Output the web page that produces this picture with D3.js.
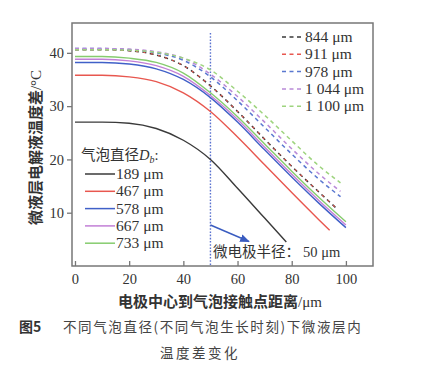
<!DOCTYPE html>
<html><head><meta charset="utf-8">
<script src="https://cdn.jsdelivr.net/npm/d3@7"></script>
<style>
html,body{margin:0;padding:0;background:#fff;}
svg{display:block;}
</style></head>
<body>
<svg id="c" width="427" height="365"></svg>
<script>
// ---- data ----
const xTicks = [0, 20, 40, 60, 80, 100];
const yTicks = [10, 20, 30, 40];
const solidNames = ["189 μm", "467 μm", "578 μm", "667 μm", "733 μm"];
const dashNames = ["844 μm", "911 μm", "978 μm", "1 044 μm", "1 100 μm"];
const solidColors = ["#3a3a3a", "#e8574f", "#4060c8", "#c27fd6", "#86cc6e"];
const dashColors = ["#3a3a3a", "#e8574f", "#5a78d0", "#b98ad8", "#9ed47e"];
const xs = [0, 10, 20, 30, 40, 50, 60, 70, 80, 90, 100];
const x189 = [0, 10, 20, 30, 40, 50, 60, 70, 78];
const y189 = [27, 27, 26.8, 25.8, 23.6, 20, 14.6, 9, 4.5];
const x467 = [0, 10, 20, 30, 40, 50, 60, 70, 80, 90, 94];
const y467 = [35.8, 35.8, 35.5, 34.6, 32.5, 29, 24.2, 19, 13.8, 8.7, 6.7];
const y578 = [38.2, 38.2, 37.9, 37, 35, 31.6, 27, 21.8, 16.7, 11.8, 7.2];
const y667 = [38.8, 38.8, 38.5, 37.6, 35.6, 32, 27.5, 22.3, 17.2, 12.3, 7.7];
const y733 = [39.3, 39.3, 39, 38.2, 36.2, 32.5, 28, 22.9, 17.8, 12.9, 8.3];
const xDash = [0, 10, 20, 30, 40, 50, 60, 70, 80, 90, 97];
const y844 = [40.6, 40.6, 40.4, 39.6, 37.6, 33.8, 29, 23.8, 18.7, 13.9, 10.6];
const y911 = [40.6, 40.6, 40.4, 39.6, 37.6, 33.8, 29, 23.8, 18.7, 13.9, 10.6];
const xDash2 = [0, 10, 20, 30, 40, 50, 60, 70, 80, 90, 98];
const y978 = [40.8, 40.8, 40.6, 40, 38.6, 35.5, 31, 26, 21, 16.3, 13];
const y1044 = [40.8, 40.8, 40.7, 40.2, 39, 36, 31.8, 27, 22, 17.3, 14];
const y1100 = [40.6, 40.6, 40.5, 40.1, 39, 36.8, 32.8, 28.3, 23.5, 18.8, 15.6];
const electrodeRadius = 50;

const solidSeries = [[x189, y189], [x467, y467], [xs, y578], [xs, y667], [xs, y733]];
const dashSeries = [[xDash, y844], [xDash, y911], [xDash2, y978], [xDash2, y1044], [xDash2, y1100]];

// ---- layout ----
const svg = d3.select("#c");
const L = 72, R = 373, T = 23, B = 266;
const x = d3.scaleLinear().domain([-1.1, 110]).range([L, R]);
const y = d3.scaleLinear().domain([0, 45.6]).range([B, T]);
const serif = "'Liberation Serif','Times New Roman','DejaVu Serif',serif";
const cjk = "'Noto Sans CJK SC','Noto Sans',sans-serif";
const txt = "#333";

// axes
const gx = svg.append("g").attr("transform", `translate(0,${B})`)
  .call(d3.axisBottom(x).tickValues(xTicks).tickSizeInner(-5).tickSizeOuter(0).tickPadding(8));
const gy = svg.append("g").attr("transform", `translate(${L},0)`)
  .call(d3.axisLeft(y).tickValues(yTicks).tickSizeInner(5).tickSizeOuter(0).tickPadding(3));
[gx, gy].forEach(g => {
  g.attr("font-family", null);
  g.select(".domain").remove();
  g.selectAll("line").attr("stroke", "#777").attr("stroke-width", 1.3);
  g.selectAll("text").attr("fill", txt).attr("font-family", serif).attr("font-size", 14.5);
});

// frame
svg.append("rect").attr("x", L).attr("y", T).attr("width", R - L).attr("height", B - T)
  .attr("fill", "none").attr("stroke", "#777").attr("stroke-width", 1.5);

// electrode radius line
svg.append("line").attr("x1", x(electrodeRadius)).attr("x2", x(electrodeRadius))
  .attr("y1", 33).attr("y2", B)
  .attr("stroke", "#5a72d0").attr("stroke-width", 1.4).attr("stroke-dasharray", "1.6,1.6");

const line = d3.line().curve(d3.curveMonotoneX).x(d => x(d[0])).y(d => y(d[1]));
const pts = s => s[0].map((v, i) => [v, s[1][i]]);

solidSeries.forEach((s, i) => {
  svg.append("path").attr("d", line(pts(s))).attr("fill", "none")
    .attr("stroke", solidColors[i]).attr("stroke-width", 1.4);
});
dashSeries.forEach((s, i) => {
  svg.append("path").attr("d", line(pts(s))).attr("fill", "none")
    .attr("stroke", dashColors[i]).attr("stroke-width", i === 1 ? 1.2 : 1.5)
    .attr("stroke-dasharray", i === 1 ? "2,5.5" : "4,3.5")
    .attr("stroke-dashoffset", i === 1 ? -1 : 0);
});

// arrow
const defs = svg.append("defs");
defs.append("marker").attr("id", "ah").attr("viewBox", "0 0 10 10").attr("refX", 9).attr("refY", 5)
  .attr("markerWidth", 7).attr("markerHeight", 7).attr("orient", "auto")
  .append("path").attr("d", "M0,1 L10,5 L0,9 Z").attr("fill", "#3a5cc0");
svg.append("line").attr("x1", x(electrodeRadius)).attr("y1", 225).attr("x2", 249).attr("y2", 241.5)
  .attr("stroke", "#3a5cc0").attr("stroke-width", 1.4).attr("marker-end", "url(#ah)");

svg.append("text").attr("x", 213).attr("y", 257).attr("fill", txt)
  .attr("font-size", 14.5)
  .call(t => {
    t.append("tspan").attr("font-family", cjk).text("微电极半径：");
    t.append("tspan").attr("font-family", serif).attr("dx", 3).text("50 μm");
  });

// legend 1
const lg1 = svg.append("g");
const lt = lg1.append("text").attr("x", 81).attr("y", 160).attr("fill", txt).attr("font-size", 14.5);
lt.append("tspan").attr("font-family", cjk).text("气泡直径");
lt.append("tspan").attr("font-family", serif).attr("font-style", "italic").text("D");
lt.append("tspan").attr("font-family", serif).attr("font-style", "italic").attr("font-size", 10).attr("dy", 3).text("b");
lt.append("tspan").attr("font-family", serif).attr("dy", -3).text(":");
solidNames.forEach((n, i) => {
  const yy = 174 + i * 17.3;
  lg1.append("line").attr("x1", 85).attr("x2", 115).attr("y1", yy).attr("y2", yy)
    .attr("stroke", solidColors[i]).attr("stroke-width", 1.5);
  lg1.append("text").attr("x", 116).attr("y", yy + 5).attr("fill", txt)
    .attr("font-family", serif).attr("font-size", 15.5).text(n);
});

// legend 2
dashNames.forEach((n, i) => {
  const yy = 37 + i * 17.3;
  svg.append("line").attr("x1", 282).attr("x2", 304).attr("y1", yy).attr("y2", yy)
    .attr("stroke", dashColors[i]).attr("stroke-width", 1.5).attr("stroke-dasharray", "4,3.5");
  svg.append("text").attr("x", 305).attr("y", yy + 5).attr("fill", txt)
    .attr("font-family", serif).attr("font-size", 15.5).text(n);
});

// axis titles
svg.append("text").attr("transform", `translate(41,${(T + B) / 2 + 3}) rotate(-90)`)
  .attr("text-anchor", "middle").attr("fill", txt).attr("font-size", 15).attr("font-weight", "bold")
  .call(t => {
    t.append("tspan").attr("font-family", cjk).text("微液层电解液温度差");
    t.append("tspan").attr("font-family", serif).attr("font-weight", "normal").text("/°C");
  });
svg.append("text").attr("x", 220).attr("y", 307).attr("text-anchor", "middle").attr("fill", txt)
  .attr("font-size", 15).attr("font-weight", "bold")
  .call(t => {
    t.append("tspan").attr("font-family", cjk).text("电极中心到气泡接触点距离");
    t.append("tspan").attr("font-family", serif).attr("font-weight", "normal").text("/μm");
  });

// caption
svg.append("text").attr("x", 19).attr("y", 332).attr("fill", "#333")
  .attr("font-size", 14).attr("font-family", cjk).attr("font-weight", "bold").text("图5");
svg.append("text").attr("x", 63).attr("y", 332).attr("fill", "#444")
  .attr("font-size", 13.5).attr("font-family", cjk).attr("letter-spacing", "1.6px")
  .text("不同气泡直径(不同气泡生长时刻)下微液层内");
svg.append("text").attr("x", 200).attr("y", 358).attr("text-anchor", "middle").attr("fill", "#444")
  .attr("font-size", 13.5).attr("font-family", cjk).attr("letter-spacing", "2.5px")
  .text("温度差变化");
</script>
</body></html>
